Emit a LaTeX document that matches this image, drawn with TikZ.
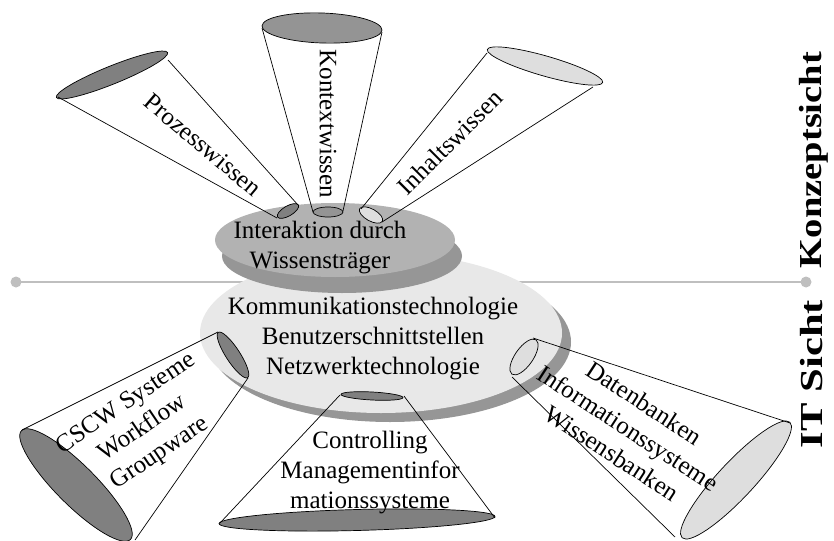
\documentclass[tikz,border=0pt]{standalone}
\usepackage{fontspec}
\setmainfont{Liberation Serif}
\usepackage{graphicx}
\definecolor{discTop}{gray}{0.70}
\definecolor{discTopSh}{gray}{0.59}
\definecolor{discLow}{gray}{0.91}
\definecolor{discLowSh}{gray}{0.59}
\definecolor{capDark}{gray}{0.50}
\definecolor{capMid}{gray}{0.58}
\definecolor{capLight}{gray}{0.87}
\definecolor{axisGray}{gray}{0.75}
\tikzset{
  lbl/.style={font=\fontsize{25}{30}\selectfont, align=center, inner sep=0pt},
  side/.style={inner sep=0pt},
  coneline/.style={draw=black, line width=0.7pt},
  capdark/.style={draw=black, fill=capDark, line width=0.7pt},
  capmid/.style={draw=black, fill=capMid, line width=0.7pt},
  caplight/.style={draw=black, fill=capLight, line width=0.7pt},
  axisline/.style={draw=axisGray, line width=2.5pt},
}
\begin{document}
\begin{tikzpicture}[x=1pt, y=-1pt]
\useasboundingbox (0,0) rectangle (834,540);

% axis line with end dots
\coordinate (axL) at (16,282);
\coordinate (axR) at (806,282);
\draw[axisline] (axL) -- (axR);
\fill[axisGray] (axL) circle [radius=5.5];
\fill[axisGray] (axR) circle [radius=5.5];

% lower disc (IT)
\fill[discLowSh] (390,342) ellipse [x radius=181, y radius=80];
\fill[discLow] (381,333) ellipse [x radius=181, y radius=80];
% upper disc (concept)
\fill[discTopSh] (342,256) ellipse [x radius=120, y radius=37];
\fill[discTop] (335,240) ellipse [x radius=120, y radius=37];

% ---- cone 1: Prozesswissen
\draw[capdark, rotate around={22:(112,75)}] (112,75) ellipse [x radius=60, y radius=9];
\draw[capdark, rotate around={30:(288,211)}] (288,211) ellipse [x radius=12, y radius=5];
\draw[coneline] (58,97) -- (277,218);
\draw[coneline] (168,60) -- (298,205);
% ---- cone 2: Kontextwissen
\draw[capmid, rotate around={-2:(322,28)}] (322,28) ellipse [x radius=60, y radius=15];
\draw[capmid] (328,212) ellipse [x radius=15, y radius=5];
\draw[coneline] (262,28) -- (313,212);
\draw[coneline] (382,32) -- (343,211);
% ---- cone 3: Inhaltswissen
\draw[caplight, rotate around={-16:(545,66)}] (545,66) ellipse [x radius=60, y radius=10];
\draw[caplight, rotate around={-29:(371,215)}] (371,215) ellipse [x radius=13, y radius=6];
\draw[coneline] (487,53) -- (361,209);
\draw[coneline] (593,87) -- (382,222);
% ---- cone 4: CSCW
\draw[capdark, rotate around={-45:(76,485)}] (76,485) ellipse [x radius=77, y radius=20];
\draw[capdark, rotate around={-57:(233,355)}] (233,355) ellipse [x radius=27, y radius=7];
\draw[coneline] (22,430) -- (218,332);
\draw[coneline] (248,378) -- (135,540);
% ---- cone 5: Controlling
\draw[capdark, rotate around={1.5:(357,520)}] (357,520) ellipse [x radius=138, y radius=10.5];
\draw[capdark, rotate around={-3:(372,396)}] (372,396) ellipse [x radius=31, y radius=4];
\draw[coneline] (340,395) -- (220,523);
\draw[coneline] (404,396) -- (495,518);
% ---- cone 6: Datenbanken
\draw[caplight, rotate around={47:(736,480)}] (736,480) ellipse [x radius=79, y radius=18];
\draw[caplight, rotate around={55:(524,357)}] (524,357) ellipse [x radius=21, y radius=9];
\draw[coneline] (533,338) -- (790,423);
\draw[coneline] (512,377) -- (675,537);

% ---- labels
\node[lbl, rotate=-40] (tProz) at (203,145) {Prozesswissen};
\node[lbl, rotate=-90] (tKont) at (328,124) {Kontextwissen};
\node[lbl, rotate=45] (tInh) at (450,142) {Inhaltswissen};
\node[lbl] (tInter) at (320,248) {Interaktion durch\\Wissensträger};
\node[lbl] (tKomm) at (373,339) {Kommunikationstechnologie\\Benutzerschnittstellen\\Netzwerktechnologie};
\node[lbl, rotate=34] (tCSCW) at (143,429) {CSCW Systeme\\Workflow\\Groupware};
\node[lbl] (tContr) at (370,473) {Controlling\\Managementinfor\\mationssysteme};
\node[lbl, rotate=-33] (tDaten) at (628,428) {Datenbanken\\Informationssysteme\\Wissensbanken};

\node[side, rotate=90] (tKonz) at (814,160) {\resizebox{216pt}{\height}{\fontsize{32}{32}\selectfont\bfseries Konzeptsicht}};
\node[side, rotate=90] (tIT) at (812,374) {\resizebox{148pt}{\height}{\fontsize{32}{32}\selectfont\bfseries IT Sicht}};
\end{tikzpicture}
\end{document}
